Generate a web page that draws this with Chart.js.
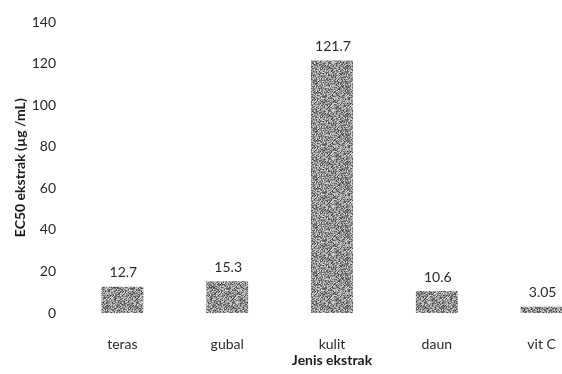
<!DOCTYPE html>
<html>
<head>
<meta charset="utf-8">
<script src="https://cdn.jsdelivr.net/npm/chart.js@4.4.1/dist/chart.umd.min.js"></script>
<style>
  html, body { margin: 0; padding: 0; background: #fff; overflow: hidden; width: 562px; height: 374px; }
  canvas { display: block; }
</style>
</head>
<body>
<canvas id="ec50Chart" width="600" height="374"></canvas>
<script>
const categories = ["teras", "gubal", "kulit", "daun", "vit C"];
const ec50Values = [12.7, 15.3, 121.7, 10.6, 3.05];
const valueLabels = ["12.7", "15.3", "121.7", "10.6", "3.05"];
const yTicks = [0, 20, 40, 60, 80, 100, 120, 140];

// grainy grey fill, like the scanned bars
function makeGrain() {
    const c = document.createElement("canvas");
    c.width = 48; c.height = 48;
    const g = c.getContext("2d");
    const img = g.createImageData(48, 48);
    for (let y = 0; y < 48; y++) {
        for (let x = 0; x < 48; x++) {
            let h = (x * 374761393 + y * 668265263) ^ 0x5bd1e995;
            h = (h ^ (h >>> 13)) * 1274126177;
            h = (h ^ (h >>> 16)) >>> 0;
            const v = 80 + (h % 150) + (((x + y) % 3 === 0) ? -30 : 0);
            const i = (y * 48 + x) * 4;
            img.data[i] = img.data[i + 1] = img.data[i + 2] = Math.max(35, Math.min(235, v));
            img.data[i + 3] = 255;
        }
    }
    g.putImageData(img, 0, 0);
    return c;
}

const ctx = document.getElementById("ec50Chart").getContext("2d");
const grain = ctx.createPattern(makeGrain(), "repeat");

const valueLabelPlugin = {
    id: "valueLabels",
    afterDatasetsDraw(chart) {
        const meta = chart.getDatasetMeta(0);
        const c = chart.ctx;
        c.save();
        c.font = "14px Lato";
        c.fillStyle = "#2a2a2a";
        c.textAlign = "center";
        c.textBaseline = "middle";
        meta.data.forEach((bar, i) => {
            c.fillText(valueLabels[i], bar.x + 1, bar.y - 14);
        });
        c.restore();
    }
};

new Chart(ctx, {
    type: "bar",
    data: {
        labels: categories,
        datasets: [{ data: ec50Values, backgroundColor: grain, borderWidth: 0, barPercentage: 0.8, categoryPercentage: 0.5 }]
    },
    options: {
        responsive: false,
        animation: false,
        layout: { padding: { top: 10, right: 6, left: 0, bottom: 0 } },
        plugins: { legend: { display: false }, tooltip: { enabled: false } },
        scales: {
            x: {
                grid: { display: false, drawTicks: false },
                border: { display: false },
                ticks: { color: "#2a2a2a", font: { family: "Lato", size: 14 }, padding: 23 },
                title: { display: true, text: "Jenis ekstrak", color: "#1a1a1a", font: { family: "Lato", size: 14, weight: "bold" }, padding: { top: 0, bottom: 5 } },
                afterFit(scale) { scale.height = 61; }
            },
            y: {
                min: 0,
                max: 140,
                afterBuildTicks(scale) { scale.ticks = yTicks.map(v => ({ value: v })); },
                grid: { display: false, drawTicks: false },
                border: { display: false },
                ticks: { color: "#2a2a2a", font: { family: "Lato", size: 14 }, padding: 14 },
                title: { display: true, text: "EC50 ekstrak (µg /mL)", color: "#1a1a1a", font: { family: "Lato", size: 14, weight: "bold" }, padding: { top: 12, bottom: 0 } },
                afterFit(scale) { scale.width = 70; }
            }
        }
    },
    plugins: [valueLabelPlugin]
});
</script>
</body>
</html>
